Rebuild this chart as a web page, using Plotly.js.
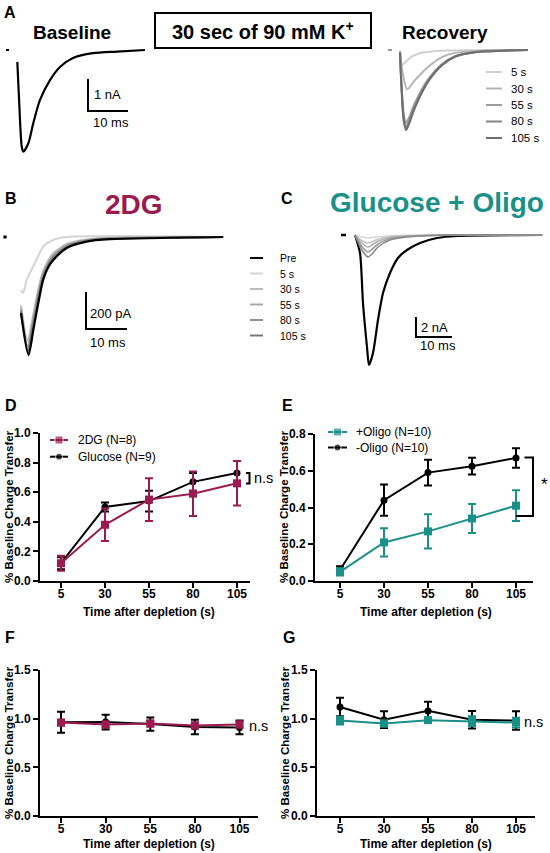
<!DOCTYPE html>
<html><head><meta charset="utf-8">
<script src="https://cdn.plot.ly/plotly-3.0.1.min.js"></script>
<style>html,body{margin:0;padding:0;background:#fff;}#chart{width:550px;height:853px;}</style>
</head><body><div id="chart"></div>
<script>
// ================= DATA =================
// Panel A – baseline EPSC (time in ms, current in nA)
const aBaseT = [0.08, 0.5, 1.18, 1.58, 2.83, 4.08, 5.75, 8.25, 10.75, 14, 19, 25, 32];
const aBaseI = [-0.37, -1.5, -3.02, -3.18, -2.92, -2.28, -1.56, -0.94, -0.53, -0.25, -0.10, -0.05, 0];
// Panel A – recovery EPSCs
const recLabels = ['5 s', '30 s', '55 s', '80 s', '105 s'];
const rec5T = [0, 0.3, 0.6, 1.5, 3, 5, 9, 32];
const rec5I = [0, -0.35, -0.47, -0.36, -0.2, -0.1, -0.03, 0];
const rec30T = [0, 0.5, 1.8, 3.75, 7, 10.5, 13.75, 20, 32];
const rec30I = [-0.06, -0.6, -1.23, -0.94, -0.53, -0.22, -0.09, -0.02, 0];
const recBigT = [0, 0.3, 0.9, 1.5, 2.3, 3.75, 7, 10.5, 13.75, 18.75, 32];
const rec55I = [-0.06, -0.9, -1.95, -2.28, -2.1, -1.65, -0.92, -0.44, -0.19, -0.06, 0];
const rec80I = [-0.06, -0.95, -2.1, -2.42, -2.22, -1.74, -0.97, -0.46, -0.2, -0.07, 0];
const rec105I = [-0.06, -1.0, -2.2, -2.5, -2.3, -1.8, -1.0, -0.48, -0.21, -0.07, 0];
const aScaleT = 10;   // ms
const aScaleI = 1;    // nA

// Panel B – 2DG EPSCs (time ms, current pA)
const bLabels = ['Pre', '5 s', '30 s', '55 s', '80 s', '105 s'];
const bPreT = [0, 1.85, 3.0, 4.22, 5.4, 6.66, 7.88, 11.15, 16, 21.7, 49.3];
const bPreI = [-411, -638, -503, -357, -232, -162, -124, -59, -25, -12, 0];
const b5T = [0, 0.5, 1.4, 2.9, 4.1, 5.4, 7.8, 11.1, 49.3];
const b5I = [-286, -303, -232, -162, -108, -52, -16, 0, 0];
const bGrayT = [0, 1.6, 2.9, 4.1, 5.3, 6.6, 7.8, 11.1, 16, 21.7, 49.3];
const b30I = [-370, -560, -430, -295, -190, -128, -90, -38, -13, -4, 0];
const b55I = [-385, -590, -455, -315, -205, -140, -100, -44, -16, -6, 0];
const b80I = [-395, -610, -470, -330, -215, -148, -108, -50, -19, -8, 0];
const b105I = [-405, -625, -488, -345, -225, -155, -116, -55, -22, -10, 0];
const bScaleT = 10;   // ms
const bScaleI = 200;  // pA

// Panel C – Glucose + Oligo EPSCs (time ms, current nA)
const cPreT = [0, 1.39, 2.22, 3.33, 3.89, 5.0, 6.39, 7.78, 9.72, 11.94, 14.44, 18.06, 22.78, 28.3, 52];
const cPreI = [0, -1.8, -6.8, -11.2, -13.0, -11.8, -8.5, -5.8, -3.8, -2.3, -1.5, -0.8, -0.3, -0.1, 0];
const cGrayT = [0, 1.9, 3.6, 4.7, 6.4, 9.7, 14.4, 26, 52];
const c5I = [0, -0.2, -0.3, -0.25, -0.16, -0.07, -0.03, 0, 0];
const c30I = [0, -0.55, -0.8, -0.68, -0.42, -0.18, -0.07, 0, 0];
const c55I = [0, -0.8, -1.2, -1.0, -0.63, -0.27, -0.1, 0, 0];
const c80I = [0, -1.15, -1.7, -1.45, -0.9, -0.38, -0.15, 0, 0];
const c105I = [0, -1.5, -2.2, -1.9, -1.2, -0.5, -0.2, 0, 0];
const cScaleT = 10;   // ms
const cScaleI = 2;    // nA

// Panels D–G – % baseline charge transfer vs time after depletion
const timePoints = [5, 30, 55, 80, 105];
const timeTicks = ['5', '30', '55', '80', '105'];
const d2DGMean = [0.12, 0.38, 0.55, 0.59, 0.66];
const d2DGErr  = [0.05, 0.11, 0.145, 0.15, 0.15];
const dGluMean = [0.12, 0.50, 0.54, 0.67, 0.73];
const dGluErr  = [0.04, 0.03, 0.07, 0.06, 0.08];
const eOligoMean   = [0.05, 0.21, 0.27, 0.34, 0.41];
const eOligoErr    = [0.02, 0.077, 0.093, 0.079, 0.084];
const eNoOligoMean = [0.06, 0.44, 0.59, 0.625, 0.67];
const eNoOligoErr  = [0.02, 0.085, 0.07, 0.046, 0.053];
const fGluMean = [0.963, 0.965, 0.945, 0.915, 0.91];
const fGluErr  = [0.107, 0.075, 0.068, 0.075, 0.07];
const f2DGMean = [0.96, 0.94, 0.95, 0.93, 0.94];
const f2DGErr  = [0.03, 0.03, 0.03, 0.03, 0.03];
const gNoOligoMean = [1.12, 0.99, 1.08, 0.99, 0.98];
const gNoOligoErr  = [0.095, 0.085, 0.095, 0.09, 0.095];
const gOligoMean   = [0.98, 0.95, 0.985, 0.975, 0.96];
const gOligoErr    = [0.04, 0.03, 0.03, 0.05, 0.05];
const dNames = ['2DG (N=8)', 'Glucose (N=9)'];
const eNames = ['+Oligo (N=10)', '-Oligo (N=10)'];

// ================= STYLE / LAYOUT =================
const W = 550, H = 853;
const FONT = 'Liberation Sans, Arial, Helvetica, sans-serif';
const CRIMSON = '#9b1b50';
const TEAL = '#1a9089';
const recColors = ['#d0d0d0', '#b4b4b4', '#9c9c9c', '#858585', '#6e6e6e'];
const bColors = ['#000000', '#d4d4d4', '#bdbdbd', '#a8a8a8', '#8f8f8f', '#787878'];
const cColors = ['#d8d8d8', '#c4c4c4', '#b0b0b0', '#9c9c9c', '#888888'];

const PX = v => v / W;
const PY = v => 1 - v / H;
function xAx(p0, p1, origin, ppu, extra) {
  return Object.assign({domain: [PX(p0), PX(p1)], range: [(p0 - origin) / ppu, (p1 - origin) / ppu]}, extra || {});
}
function yAx(top, bottom, origin, ppu, extra) {
  return Object.assign({domain: [PY(bottom), PY(top)], range: [-(bottom - origin) / ppu, -(top - origin) / ppu]}, extra || {});
}
const hidden = {visible: false, fixedrange: true, showgrid: false, zeroline: false};
const statAxis = {
  showline: true, linecolor: '#000', linewidth: 2, ticks: 'outside', ticklen: 5, tickwidth: 2,
  tickcolor: '#000', showgrid: false, zeroline: false, fixedrange: true,
  tickfont: {family: FONT, size: 12, color: '#000', weight: 'bold'}
};
function xStat(p0, p1, origin, ppu, anchor) {
  return xAx(p0, p1, origin, ppu, Object.assign({}, statAxis, {anchor: anchor, tickmode: 'array', tickvals: timePoints, ticktext: timeTicks, ticklabelstandoff: -4}));
}
function yStat(top, bottom, ppu, anchor, dt) {
  return yAx(top, bottom, bottom, ppu, Object.assign({}, statAxis, {anchor: anchor, dtick: dt, tick0: 0, tickformat: '.1f'}));
}

const traces = [];
function wave(xa, ya, t, i, color, w) {
  traces.push({type: 'scatter', mode: 'lines', x: t, y: i, xaxis: xa, yaxis: ya, hoverinfo: 'skip', showlegend: false,
    line: {color: color, width: w || 2, shape: 'spline', smoothing: 0.7}});
}
function seg(xa, ya, x, y, color, w) {
  traces.push({type: 'scatter', mode: 'lines', x: x, y: y, xaxis: xa, yaxis: ya, hoverinfo: 'skip', showlegend: false,
    line: {color: color, width: w || 2}});
}
function scaleBar(xa, ya, t0, i0, lt, li) {
  seg(xa, ya, [t0, t0, t0 + lt], [i0 + li, i0, i0], '#000', 2);
}
function series(xa, ya, mean, err, color, symbol, size) {
  traces.push({type: 'scatter', mode: 'lines+markers', x: timePoints, y: mean, xaxis: xa, yaxis: ya,
    hoverinfo: 'skip', showlegend: false, cliponaxis: false,
    line: {color: color, width: 2}, marker: {color: color, symbol: symbol, size: size},
    error_y: {type: 'data', array: err, visible: true, color: color, thickness: 2, width: 4}});
}

// ---- Panel A
seg('x', 'y', [-2.75, -2.0], [0, 0], '#000', 2);
wave('x', 'y', aBaseT, aBaseI, '#000', 2.2);
scaleBar('x', 'y', 17.75, -1.906, aScaleT, aScaleI);
seg('x2', 'y2', [-3, -2], [0, 0], '#999', 2);
const recT = [rec5T, rec30T, recBigT, recBigT, recBigT];
const recI = [rec5I, rec30I, rec55I, rec80I, rec105I];
recI.forEach((arr, k) => wave('x2', 'y2', recT[k], arr, recColors[k], 2));

// ---- Panel B
seg('x3', 'y3', [-4.3, -3.5], [0, 0], '#000', 3);
wave('x3', 'y3', b5T, b5I, bColors[1], 2);
[b30I, b55I, b80I, b105I].forEach((arr, k) => wave('x3', 'y3', bGrayT, arr, bColors[k + 2], 2));
wave('x3', 'y3', bPreT, bPreI, bColors[0], 2.2);
scaleBar('x3', 'y3', 15.85, -497, bScaleT, bScaleI);

// ---- Panel C
seg('x4', 'y4', [-3.9, -2.5], [0, 0], '#000', 2.5);
wave('x4', 'y4', cPreT, cPreI, '#000', 2.2);
[c5I, c30I, c55I, c80I, c105I].forEach((arr, k) => wave('x4', 'y4', cGrayT, arr, cColors[k], 1.6));
scaleBar('x4', 'y4', 16.94, -10.2, cScaleT, cScaleI);

// ---- Panels D–G
series('x5', 'y5', dGluMean, dGluErr, '#000', 'circle', 7);
series('x5', 'y5', d2DGMean, d2DGErr, CRIMSON, 'square', 8);
series('x6', 'y6', eNoOligoMean, eNoOligoErr, '#000', 'circle', 7);
series('x6', 'y6', eOligoMean, eOligoErr, TEAL, 'square', 8);
series('x7', 'y7', fGluMean, fGluErr, '#000', 'circle', 7);
series('x7', 'y7', f2DGMean, f2DGErr, CRIMSON, 'square', 8);
series('x8', 'y8', gNoOligoMean, gNoOligoErr, '#000', 'circle', 7);
series('x8', 'y8', gOligoMean, gOligoErr, TEAL, 'square', 8);

// ---- Keys (on a pixel overlay axis)
const annotations = [];
function ann(text, x, y, size, opts) {
  annotations.push(Object.assign({text: text, x: PX(x), y: PY(y), xref: 'paper', yref: 'paper', showarrow: false,
    xanchor: 'left', yanchor: 'middle', font: {family: FONT, size: size, color: '#000'}}, opts || {}));
}
function key(x0, x1, y, color, symbol, size, label, tx, fs) {
  const mid = (x0 + x1) / 2;
  traces.push({type: 'scatter', mode: symbol ? 'lines+markers' : 'lines', x: [x0, mid, x1], y: [y, y, y],
    xaxis: 'x9', yaxis: 'y9', hoverinfo: 'skip', showlegend: false, line: {color: color, width: 2},
    marker: {color: color, symbol: symbol || 'circle', size: [0, size || 0, 0]}});
  ann(label, tx, y, fs);
}
const recKeyY = [72, 88.5, 105, 121.5, 138];
recLabels.forEach((l, k) => key(486, 502, recKeyY[k], recColors[k], null, 0, l, 509, 11.5));
const bKeyY = [258, 273.5, 289, 304.5, 320, 335.5];
bLabels.forEach((l, k) => key(250, 263, bKeyY[k], bColors[k], null, 0, l, 278, 10.5));
key(50, 68, 440, CRIMSON, 'square', 8, dNames[0], 76, 12);
key(50, 68, 456.7, '#000', 'circle', 7, dNames[1], 76, 12);
key(328, 347, 432, TEAL, 'square', 8, eNames[0], 354, 12);
key(328, 347, 447.5, '#000', 'circle', 7, eNames[1], 354, 12);

// ---- Text
const bold = (s, c) => ({family: FONT, size: s, color: c || '#000', weight: 'bold'});
ann('A', 2, 12, 16, {font: bold(16)});
ann('Baseline', 72, 33, 19, {xanchor: 'center', font: bold(19)});
ann('30 sec of 90 mM K<sup>+</sup>', 263, 31, 20, {xanchor: 'center', font: bold(20)});
ann('Recovery', 445, 33, 19, {xanchor: 'center', font: bold(19)});
ann('1 nA', 92, 95, 13);
ann('10 ms', 91, 123, 13);
ann('B', 3, 198, 16, {font: bold(16)});
ann('2DG', 134, 204, 28, {xanchor: 'center', font: bold(28, CRIMSON)});
ann('C', 279, 198, 16, {font: bold(16)});
ann('Glucose + Oligo', 437, 203, 28, {xanchor: 'center', font: bold(28, TEAL)});
ann('200 pA', 88, 313, 13);
ann('10 ms', 88, 342, 13);
ann('2 nA', 419, 327, 13);
ann('10 ms', 418, 345, 13);
ann('D', 3, 406, 16, {font: bold(16)});
ann('E', 280, 406, 16, {font: bold(16)});
ann('F', 3, 637, 16, {font: bold(16)});
ann('G', 281, 637, 16, {font: bold(16)});
const yTitle = '% Baseline Charge Transfer';
const xTitle = 'Time after depletion (s)';
[[9, 507], [284, 507], [9, 743], [285, 743]].forEach(p => ann(yTitle, p[0], p[1], 11.5, {xanchor: 'center', textangle: -90, font: bold(11.5)}));
[[149, 612], [426, 612], [149, 844], [426, 844]].forEach(p => ann(xTitle, p[0], p[1], 12, {xanchor: 'center', font: bold(12)}));
ann('n.s', 252, 478, 14.5);
ann('n.s', 247, 726, 14.5);
ann('n.s', 522, 722, 14.5);
ann('*', 544.5, 484, 17, {xanchor: 'center'});

// ---- Shapes
function pathPx(pts) {
  return pts.map((p, k) => (k ? 'L' : 'M') + PX(p[0]).toFixed(5) + ',' + PY(p[1]).toFixed(5)).join(' ');
}
const shapes = [
  {type: 'rect', xref: 'paper', yref: 'paper', x0: PX(155), x1: PX(371), y0: PY(48), y1: PY(13), line: {color: '#000', width: 2}},
  {type: 'path', xref: 'paper', yref: 'paper', path: pathPx([[246, 473], [249.5, 473], [249.5, 483.5], [246, 483.5]]), line: {color: '#000', width: 2}},
  {type: 'path', xref: 'paper', yref: 'paper', path: pathPx([[524.5, 457.5], [533, 457.5], [533, 516], [516, 516]]), line: {color: '#000', width: 2}}
];

const layout = {
  width: W, height: H, margin: {l: 0, r: 0, t: 0, b: 0},
  paper_bgcolor: '#fff', plot_bgcolor: 'rgba(0,0,0,0)', showlegend: false,
  font: {family: FONT, color: '#000'},
  xaxis: xAx(0, 150, 17, 4, hidden), yaxis: yAx(35, 170, 50, 32, hidden),
  xaxis2: xAx(380, 545, 400, 4, hidden), yaxis2: yAx(35, 170, 50, 32, hidden),
  xaxis3: xAx(0, 230, 21, 4.1, hidden), yaxis3: yAx(225, 370, 237, 0.185, hidden),
  xaxis4: xAx(330, 550, 355, 3.6, hidden), yaxis4: yAx(225, 375, 235, 10, hidden),
  xaxis5: xStat(40, 250, 52.2, 1.76, 'y5'), yaxis5: yStat(433, 581, 148, 'x5', 0.2),
  xaxis6: xStat(315, 533, 331.2, 1.76, 'y6'), yaxis6: yStat(434, 581, 183.75, 'x6', 0.2),
  xaxis7: xStat(40, 258, 52.1, 1.785, 'y7'), yaxis7: yStat(670, 816, 97.33, 'x7', 0.5),
  xaxis8: xStat(317, 535, 331.2, 1.76, 'y8'), yaxis8: yStat(670, 816, 97.33, 'x8', 0.5),
  xaxis9: {domain: [0, 1], range: [0, W], visible: false, fixedrange: true, anchor: 'y9'},
  yaxis9: {domain: [0, 1], range: [H, 0], visible: false, fixedrange: true, anchor: 'x9'},
  annotations: annotations, shapes: shapes
};
Plotly.newPlot('chart', traces, layout, {displayModeBar: false, staticPlot: true});
</script>
</body></html>
